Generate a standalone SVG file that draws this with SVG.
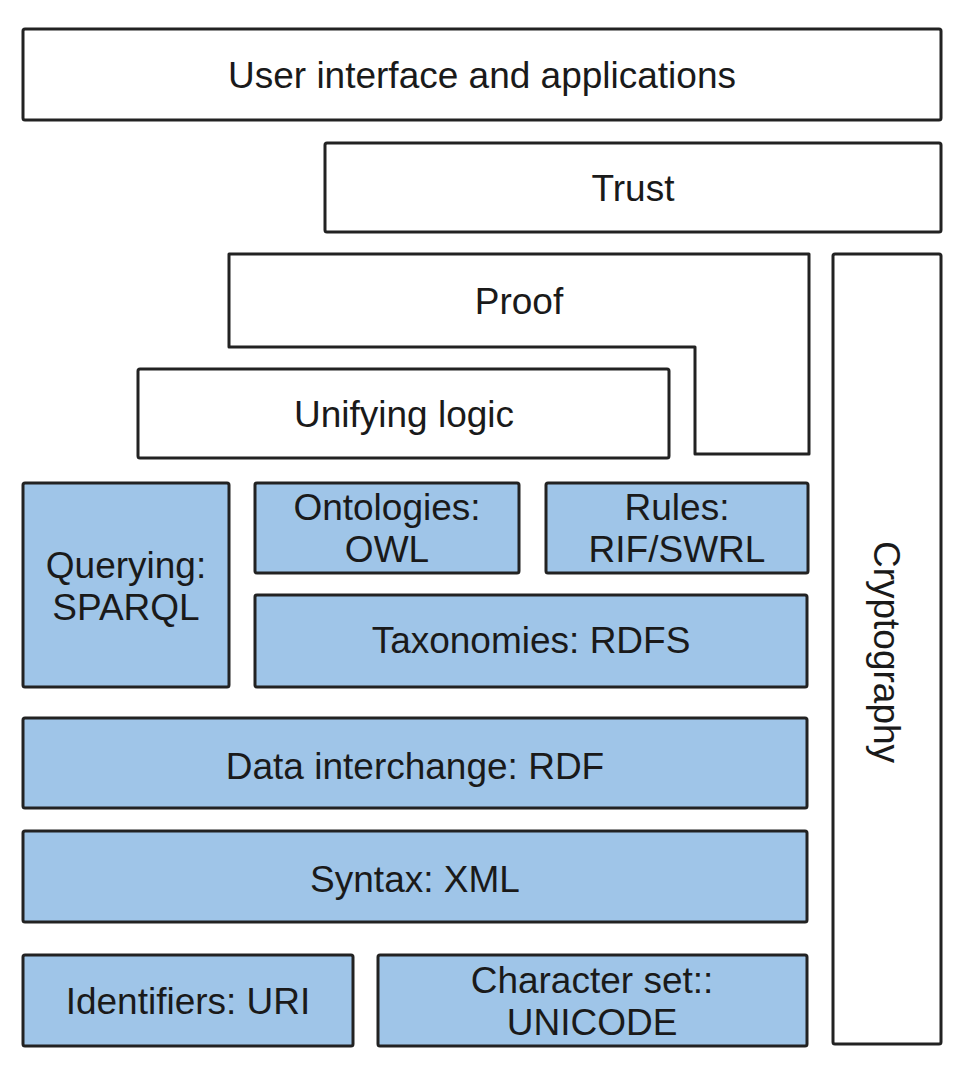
<svg xmlns="http://www.w3.org/2000/svg" width="968" height="1070" viewBox="0 0 968 1070">
<style>
.w{fill:#ffffff;stroke:#222222;stroke-width:3;stroke-linejoin:round}
.b{fill:#9fc5e8;stroke:#222222;stroke-width:3;stroke-linejoin:round}
text{font-family:"Liberation Sans",Arial,sans-serif;font-size:37px;fill:#1a1a1a;text-anchor:middle}
</style>
<rect width="968" height="1070" fill="#ffffff"/>
<g id="user"><rect class="w" x="23" y="29" width="918" height="91" rx="2"/><text x="482" y="88">User interface and applications</text></g>
<g id="trust"><rect class="w" x="325" y="143" width="616" height="89" rx="2"/><text x="633" y="201">Trust</text></g>
<g id="proof"><path class="w" d="M229 254 H809 V454 H695 V347 H229 Z"/><text x="519" y="314">Proof</text></g>
<g id="crypto"><rect class="w" x="833" y="254" width="108" height="790" rx="2"/><text transform="translate(874 652) rotate(90)">Cryptography</text></g>
<g id="logic"><rect class="w" x="138" y="369" width="531" height="89" rx="2"/><text x="404" y="427">Unifying logic</text></g>
<g id="query"><rect class="b" x="23" y="483" width="206" height="204" rx="2"/><text x="126" y="578">Querying:</text><text x="126" y="620">SPARQL</text></g>
<g id="onto"><rect class="b" x="255" y="483" width="264" height="90" rx="2"/><text x="387" y="520">Ontologies:</text><text x="387" y="562">OWL</text></g>
<g id="rules"><rect class="b" x="546" y="483" width="262" height="90" rx="2"/><text x="677" y="520">Rules:</text><text x="677" y="562">RIF/SWRL</text></g>
<g id="tax"><rect class="b" x="255" y="595" width="552" height="92" rx="2"/><text x="531" y="653">Taxonomies: RDFS</text></g>
<g id="rdf"><rect class="b" x="23" y="718" width="784" height="90" rx="2"/><text x="415" y="779">Data interchange: RDF</text></g>
<g id="xml"><rect class="b" x="23" y="831" width="784" height="91" rx="2"/><text x="415" y="892">Syntax: XML</text></g>
<g id="uri"><rect class="b" x="23" y="955" width="330" height="91" rx="2"/><text x="188" y="1014">Identifiers: URI</text></g>
<g id="unicode"><rect class="b" x="378" y="955" width="429" height="91" rx="2"/><text x="592" y="993">Character set::</text><text x="592" y="1035">UNICODE</text></g>
<g id="connectors"></g>
</svg>
